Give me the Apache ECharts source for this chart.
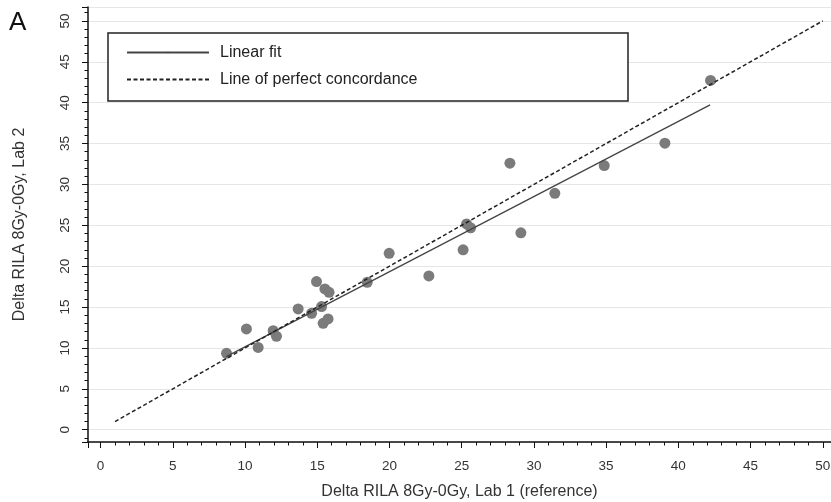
<!DOCTYPE html>
<html>
<head>
<meta charset="utf-8">
<script src="https://cdn.jsdelivr.net/npm/echarts@6/dist/echarts.min.js"></script>
<style>
  html, body { margin: 0; padding: 0; background: #fff; }
  #chart { width: 831px; height: 502px; }
</style>
</head>
<body>
<div id="chart"></div>
<script>
// Lab 1 (reference) vs Lab 2
var lab1 = [8.72, 10.10, 10.91, 11.95, 12.18, 13.68, 14.61, 14.95, 15.30, 15.41, 15.53, 15.82, 15.75,
            18.46, 19.98, 22.73, 25.10, 25.34, 25.62, 28.34, 29.10, 31.45, 34.87, 39.07, 42.23];
var lab2 = [9.34, 12.33, 10.07, 12.12, 11.42, 14.77, 14.24, 18.12, 15.06, 13.01, 17.22, 16.81, 13.55,
            18.03, 21.58, 18.81, 22.00, 25.17, 24.69, 32.60, 24.08, 28.92, 32.31, 35.05, 42.72];
// linear fit end points
var fitX = [8.7, 42.2];
var fitY = [8.95, 39.73];
// line of perfect concordance
var idX = [1, 50];
var idY = [1, 50];
var tickValues = [0, 5, 10, 15, 20, 25, 30, 35, 40, 45, 50];

var font = 'Liberation Sans, Arial, sans-serif';
var myChart = echarts.init(document.getElementById('chart'));

function pairs(xs, ys) {
    var out = [];
    xs.forEach(function (x, i) { out.push([x, ys[i]]); });
    return out;
}
function tickLabel(v) {
    return tickValues.indexOf(Math.round(v * 1000) / 1000) >= 0 ? String(Math.round(v)) : '';
}

var options = {
    animation: false,
    backgroundColor: '#fff',
    grid: { left: 88, right: 0, top: 7, bottom: 60, outerBoundsMode: 'none' },
    graphic: [
        {
            type: 'rect', z: 3,
            shape: { x: 108, y: 33, width: 520, height: 68 },
            style: { fill: '#fff', stroke: '#222', lineWidth: 1.5 }
        },
        {
            type: 'text', left: 9, top: 10, z: 5,
            style: { text: 'A', font: '26px ' + font, fill: '#111' }
        }
    ],
    legend: {
        orient: 'vertical',
        left: 121, top: 38.5, z: 6,
        itemWidth: 82, itemHeight: 2, itemGap: 9,
        data: ['Linear fit', 'Line of perfect concordance'],
        textStyle: { fontFamily: font, fontSize: 16, lineHeight: 18, color: '#222', padding: [0, 0, 0, 6] }
    },
    xAxis: {
        type: 'value',
        min: -0.87, max: 50.57,
        splitNumber: 10,
        name: 'Delta RILA 8Gy-0Gy, Lab 1 (reference)',
        nameLocation: 'middle',
        nameGap: 42,
        nameTextStyle: { fontFamily: font, fontSize: 16, color: '#333' },
        axisLine: { show: true, onZero: false, lineStyle: { color: '#111', width: 1.5 } },
        axisTick: { show: true, length: 6, lineStyle: { color: '#111', width: 1 } },
        minorTick: { show: true, splitNumber: 5, length: 3.5, lineStyle: { color: '#111', width: 1 } },
        axisLabel: { fontFamily: font, fontSize: 13.5, color: '#333', margin: 17,
                     showMinLabel: false, showMaxLabel: false, formatter: tickLabel },
        splitLine: { show: false }
    },
    yAxis: {
        type: 'value',
        min: -1.5, max: 51.7,
        splitNumber: 10,
        name: 'Delta RILA 8Gy-0Gy, Lab 2',
        nameLocation: 'middle',
        nameGap: 60,
        nameTextStyle: { fontFamily: font, fontSize: 16, color: '#333' },
        axisLine: { show: true, onZero: false, lineStyle: { color: '#111', width: 1.5 } },
        axisTick: { show: true, length: 6, lineStyle: { color: '#111', width: 1 } },
        minorTick: { show: true, splitNumber: 5, length: 3.5, lineStyle: { color: '#111', width: 1 } },
        axisLabel: { fontFamily: font, fontSize: 13.5, color: '#333', margin: 16, rotate: 90,
                     showMinLabel: false, showMaxLabel: false, formatter: tickLabel },
        splitLine: { show: true, lineStyle: { color: '#e6e6e6', width: 1.2 } }
    },
    series: [
        {
            type: 'scatter',
            name: 'points',
            data: pairs(lab1, lab2),
            symbolSize: 11,
            itemStyle: { color: '#7b7b7b', opacity: 1 },
            z: 2
        },
        {
            type: 'line',
            name: 'Linear fit',
            data: pairs(fitX, fitY),
            symbol: 'none',
            color: '#444',
            lineStyle: { color: '#444', width: 1.3 },
            z: 3
        },
        {
            type: 'line',
            name: 'Line of perfect concordance',
            data: pairs(idX, idY),
            symbol: 'none',
            color: '#222',
            lineStyle: { color: '#222', width: 1.5, type: [4, 2.5] },
            z: 3
        }
    ]
};
myChart.setOption(options);
window.addEventListener('resize', function () { myChart.resize(); });
</script>
</body>
</html>
